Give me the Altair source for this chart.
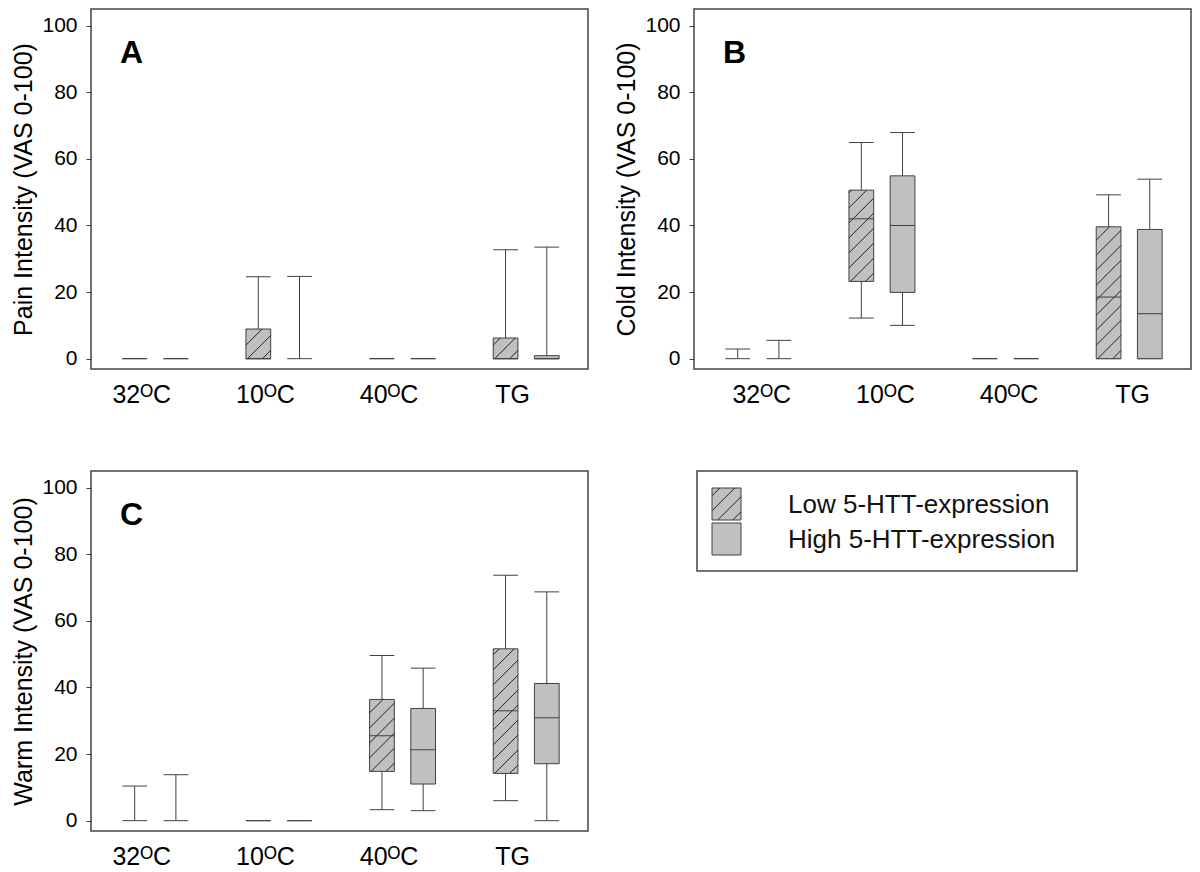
import json
import altair as alt
import pandas as pd

# ---------------- data ----------------
categories = ["32ᴼC", "10ᴼC", "40ᴼC", "TG"]
groups = ["Low 5-HTT-expression", "High 5-HTT-expression"]

# Panel A - Pain intensity (VAS 0-100): whisker min, Q1, median, Q3, whisker max
pain_low_min = [0, 0, 0, 0]
pain_low_q1 = [0, 0, 0, 0]
pain_low_median = [0, 0, 0, 0]
pain_low_q3 = [0, 8.9, 0, 6.2]
pain_low_max = [0, 24.6, 0, 32.7]
pain_high_min = [0, 0, 0, 0]
pain_high_q1 = [0, 0, 0, 0]
pain_high_median = [0, 0, 0, 0]
pain_high_q3 = [0, 0, 0, 0.9]
pain_high_max = [0, 24.7, 0, 33.5]

# Panel B - Cold intensity
cold_low_min = [0, 12.2, 0, 0]
cold_low_q1 = [0, 23.2, 0, 0]
cold_low_median = [0, 42.0, 0, 18.5]
cold_low_q3 = [0, 50.6, 0, 39.6]
cold_low_max = [2.9, 64.9, 0, 49.2]
cold_high_min = [0, 10.0, 0, 0]
cold_high_q1 = [0, 19.9, 0, 0]
cold_high_median = [0, 40.0, 0, 13.5]
cold_high_q3 = [0, 54.9, 0, 38.8]
cold_high_max = [5.5, 67.9, 0, 53.9]

# Panel C - Warm intensity
warm_low_min = [0, 0, 3.3, 6.0]
warm_low_q1 = [0, 0, 14.8, 14.2]
warm_low_median = [0, 0, 25.5, 33.0]
warm_low_q3 = [0, 0, 36.4, 51.6]
warm_low_max = [10.4, 0, 49.6, 73.7]
warm_high_min = [0, 0, 3.0, 0]
warm_high_q1 = [0, 0, 11.0, 17.1]
warm_high_median = [0, 0, 21.3, 30.9]
warm_high_q3 = [0, 0, 33.7, 41.2]
warm_high_max = [13.8, 0, 45.8, 68.7]

y_ticks = [0, 20, 40, 60, 80, 100]

# ---------------- layout / style ----------------
W, H = 497, 360
X_DOMAIN = [-0.52, 3.5]
Y_DOMAIN = [-3.1, 105]
OFFSET = 0.1667
HALF = 0.1
PX_X = W / (X_DOMAIN[1] - X_DOMAIN[0])
PX_Y = H / (Y_DOMAIN[1] - Y_DOMAIN[0])
HATCH_SPACING = 15.0
LINE = "#404040"
FILL = "#c0c0c0"
FONT = "Liberation Sans"


def box_table(low, high):
    rows = []
    for gi, (g, stats) in enumerate(zip(groups, [low, high])):
        lo, q1, med, q3, hi = stats
        for ci, cat in enumerate(categories):
            pos = ci + (-OFFSET if gi == 0 else OFFSET)
            rows.append(dict(group=g, cat=cat, pos=pos, left=pos - HALF, right=pos + HALF,
                             lo=lo[ci], q1=q1[ci], med=med[ci], q3=q3[ci], hi=hi[ci],
                             hatched=(gi == 0), hasbox=(q3[ci] > q1[ci])))
    return pd.DataFrame(rows)


def hatch_lines(w, h, s):
    """45-degree '/' lines clipped to a w x h pixel box; (u, v) from bottom-left, v upward."""
    segs = []
    c = -w + s * 0.55
    while c < h:
        u0 = max(0.0, -c)
        u1 = min(w, h - c)
        if u1 > u0:
            segs.append((u0, u0 + c, u1, u1 + c))
        c += s
    return segs


def hatch_table(df):
    segs = []
    for r in df[df.hatched & df.hasbox].itertuples():
        w = (r.right - r.left) * PX_X
        h = (r.q3 - r.q1) * PX_Y
        for u0, v0, u1, v1 in hatch_lines(w, h, HATCH_SPACING):
            segs.append(dict(x=r.left + u0 / PX_X, x2=r.left + u1 / PX_X,
                             y=r.q1 + v0 / PX_Y, y2=r.q1 + v1 / PX_Y))
    return pd.DataFrame(segs)


label_expr = json.dumps(categories) + "[round(datum.value)]"


def xenc(field, label_offset):
    return alt.X(field, type="quantitative", title=None,
                 scale=alt.Scale(domain=X_DOMAIN, nice=False, zero=False),
                 axis=alt.Axis(values=[0, 1, 2, 3], labelExpr=label_expr, ticks=False,
                               domain=False, grid=False, labelPadding=13,
                               labelOffset=label_offset, labelFont=FONT,
                               labelFontSize=25, labelColor="#000"))


def yenc(field, title):
    return alt.Y(field, type="quantitative", title=title,
                 scale=alt.Scale(domain=Y_DOMAIN, nice=False, zero=False),
                 axis=alt.Axis(values=y_ticks, tickSize=5, tickColor=LINE, tickWidth=1,
                               domain=False, grid=False, labelPadding=9, labelFont=FONT,
                               labelFontSize=21, labelColor="#000", titleFont=FONT,
                               titleFontSize=25, titleFontWeight="normal",
                               titleColor="#000", titlePadding=5))


def panel(low, high, title, letter, label_offset):
    df = box_table(low, high)
    boxes = df[df.hasbox]
    hatch = hatch_table(df)
    base = alt.Chart(df)
    whisk = base.mark_rule(color=LINE, strokeWidth=1).encode(
        x=xenc("pos", label_offset), y=yenc("lo", title), y2="hi:Q")
    cap_lo = base.mark_rule(color=LINE, strokeWidth=1).encode(
        x=xenc("left", label_offset), x2="right:Q", y=yenc("lo", title))
    cap_hi = base.mark_rule(color=LINE, strokeWidth=1).encode(
        x=xenc("left", label_offset), x2="right:Q", y=yenc("hi", title))
    box = alt.Chart(boxes).mark_rect(fill=FILL, stroke=LINE, strokeWidth=1).encode(
        x=xenc("left", label_offset), x2="right:Q", y=yenc("q1", title), y2="q3:Q")
    hat = alt.Chart(hatch).mark_rule(color="#222222", strokeWidth=1).encode(
        x=xenc("x", label_offset), x2="x2:Q", y=yenc("y", title), y2="y2:Q")
    med = alt.Chart(boxes).mark_rule(color=LINE, strokeWidth=1).encode(
        x=xenc("left", label_offset), x2="right:Q", y=yenc("med", title))
    let = alt.Chart(pd.DataFrame({"t": [letter]})).mark_text(
        font=FONT, fontSize=32, fontWeight="bold", align="left", baseline="alphabetic",
        color="#000").encode(text="t:N", x=alt.value(29), y=alt.value(54))
    return alt.layer(whisk, cap_lo, cap_hi, box, hat, med, let).properties(width=W, height=H)


A = panel((pain_low_min, pain_low_q1, pain_low_median, pain_low_q3, pain_low_max),
          (pain_high_min, pain_high_q1, pain_high_median, pain_high_q3, pain_high_max),
          "Pain Intensity (VAS 0-100)", "A", -14)
B = panel((cold_low_min, cold_low_q1, cold_low_median, cold_low_q3, cold_low_max),
          (cold_high_min, cold_high_q1, cold_high_median, cold_high_q3, cold_high_max),
          "Cold Intensity (VAS 0-100)", "B", 3)
C = panel((warm_low_min, warm_low_q1, warm_low_median, warm_low_q3, warm_low_max),
          (warm_high_min, warm_high_q1, warm_high_median, warm_high_q3, warm_high_max),
          "Warm Intensity (VAS 0-100)", "C", -14)

# ---------------- legend box ----------------
LW, LH = 380, 100
SW_X0, SW_X1 = 15, 44
ROW_TOP, ROW_H = 17, 35
SW_H = 32
leg_rows = []
for i, g in enumerate(groups):
    top = ROW_TOP + i * ROW_H
    leg_rows.append(dict(label=g, top=top, bottom=top + SW_H, mid=top + SW_H / 2 + 1,
                         hatched=(i == 0)))
leg = pd.DataFrame(leg_rows)
leg_hatch = []
for r in leg[leg.hatched].itertuples():
    w, h = SW_X1 - SW_X0, r.bottom - r.top
    for u0, v0, u1, v1 in hatch_lines(w, h, HATCH_SPACING):
        leg_hatch.append(dict(x=SW_X0 + u0, x2=SW_X0 + u1, y=r.bottom - v0, y2=r.bottom - v1))
leg_hatch = pd.DataFrame(leg_hatch)

lx = alt.Scale(domain=[0, LW], range=[0, LW], nice=False, zero=False)
ly = alt.Scale(domain=[0, LH], range=[0, LH], nice=False, zero=False)
leg_rect = alt.Chart(leg).mark_rect(fill=FILL, stroke=LINE, strokeWidth=1).encode(
    x=alt.value(SW_X0), x2=alt.value(SW_X1),
    y=alt.Y("top:Q", scale=ly, axis=None), y2="bottom:Q")
leg_hat = alt.Chart(leg_hatch).mark_rule(color="#222222", strokeWidth=1).encode(
    x=alt.X("x:Q", scale=lx, axis=None), x2="x2:Q",
    y=alt.Y("y:Q", scale=ly, axis=None), y2="y2:Q")
leg_text = alt.Chart(leg).mark_text(font=FONT, fontSize=26, align="left",
                                    baseline="middle", color="#111").encode(
    x=alt.value(91), y=alt.Y("mid:Q", scale=ly, axis=None), text="label:N")
legend = alt.layer(leg_rect, leg_hat, leg_text).properties(width=LW, height=LH)

chart = alt.vconcat(
    alt.hconcat(A, B, spacing=25),
    alt.hconcat(C, legend, spacing=107),
    spacing=62,
).properties(
    padding={"left": 3, "top": 0, "right": 0, "bottom": 0},
    background="white",
).configure_view(stroke="#444444", strokeWidth=1.5)

chart.save("out.html", embed_options={"renderer": "svg", "actions": False})
